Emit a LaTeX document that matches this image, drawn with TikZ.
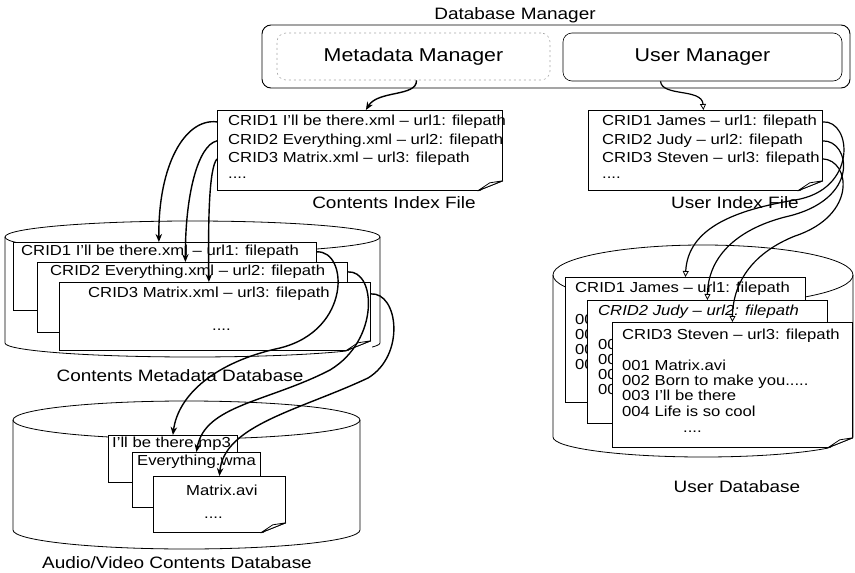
\documentclass[tikz,border=0pt]{standalone}
\usepackage{fontspec}
\setmainfont{Liberation Sans}[FakeStretch=1.15]
\usetikzlibrary{arrows.meta}

\newcommand\bodyfont{\fontsize{14.5}{17}\selectfont}
\newcommand\labelfont{\fontsize{16.5}{19}\selectfont}
\newcommand\mgrfont{\fontsize{18.6}{22}\selectfont}

\tikzset{
  page/.style={draw, fill=white, line width=0.8pt, rectangle, inner sep=0pt, anchor=north west},
  txt/.style={font=\bodyfont, inner sep=0pt, anchor=mid west},
  dots/.style={font=\bodyfont, inner sep=0pt, anchor=base west},
  lbl/.style={font=\labelfont, inner sep=0pt},
  cyl/.style={line width=0.8pt},
  arr/.style={line width=1.4pt, -{Stealth[length=8pt,width=6.5pt]}},
  oarr/.style={line width=1.2pt, -{Triangle[open,length=6pt,width=6pt,line width=0.8pt]}},
}

% dog-eared bottom right corner of a page node
\newcommand\dogear[1]{%
  \fill[white] ([xshift=1pt,yshift=10pt]#1.south east) -- ([xshift=1pt,yshift=-1pt]#1.south east)
     -- ([xshift=-25pt,yshift=-1pt]#1.south east) -- cycle;
  \draw[line width=0.8pt] ([yshift=10pt]#1.south east) -- ([xshift=-25pt]#1.south east);
  \draw[line width=0.8pt, fill=white, line join=round] ([xshift=-25pt]#1.south east)
     -- ([xshift=-13pt,yshift=8pt]#1.south east) -- ([yshift=10pt]#1.south east) -- cycle;
}

\begin{document}
\begin{tikzpicture}[x=1pt,y=-1pt]
\useasboundingbox (0,0) rectangle (855,573);

% ---------- Database manager ----------
\node[font=\labelfont, inner sep=0pt] (dbmt) at (515,15) {Database Manager};
\node[draw, rounded corners=9pt, line width=0.9pt, minimum width=588pt, minimum height=63pt] (dbm) at (556,56.5) {};
\node[draw=gray!70, dash pattern=on 2pt off 3pt, rounded corners=9pt, line width=0.6pt,
      minimum width=273pt, minimum height=47pt, font=\mgrfont] (mm) at (413.5,56.5) {Metadata Manager};
\node[draw, rounded corners=9pt, line width=0.6pt,
      minimum width=279pt, minimum height=48pt, font=\mgrfont] (um) at (702.5,57) {User Manager};

% ---------- index files ----------
\node[page, minimum width=285pt, minimum height=80pt] (cif) at (217,110) {};
\dogear{cif}
\node[txt] (ci1) at (228,123) {CRID1 I'll be there.xml – url1: filepath};
\node[txt] (ci2) at (228,142) {CRID2 Everything.xml – url2: filepath};
\node[txt] (ci3) at (228,160) {CRID3 Matrix.xml – url3: filepath};
\node[dots] (ci4) at (228,178) {....};
\node[lbl] (cifl) at (394,203) {Contents Index File};

\node[page, minimum width=234pt, minimum height=80pt] (uif) at (588,110) {};
\dogear{uif}
\node[txt] (ui1) at (602,123) {CRID1 James – url1: filepath};
\node[txt] (ui2) at (602,142) {CRID2 Judy – url2: filepath};
\node[txt] (ui3) at (602,160) {CRID3 Steven – url3: filepath};
\node[dots] (ui4) at (602,178) {....};
\node[lbl] (uifl) at (735,203) {User Index File};

% ---------- contents metadata database ----------
\draw[cyl] (192.5,237) ellipse [x radius=187.5pt, y radius=16pt];
\draw[cyl] (5,237) -- (5,343) arc[start angle=180, end angle=360, x radius=187.5pt, y radius=14pt] -- (380,237);
\node[page, minimum width=303pt, minimum height=68pt] (md1) at (13,242) {};
\node[txt] (mt1) at (21,253) {CRID1 I'll be there.xml – url1: filepath};
\node[page, minimum width=310pt, minimum height=70pt] (md2) at (37,262) {};
\node[txt] (mt2) at (50,273) {CRID2 Everything.xml – url2: filepath};
\node[page, minimum width=311pt, minimum height=68pt] (md3) at (59,282) {};
\dogear{md3}
\node[txt] (mt3) at (88,295) {CRID3 Matrix.xml – url3: filepath};
\node[dots] (mt4) at (212,330) {....};
\node[lbl] (cmdl) at (180,376) {Contents Metadata Database};

% ---------- audio/video contents database ----------
\draw[cyl] (186.5,420) ellipse [x radius=173.5pt, y radius=19pt];
\draw[cyl] (13,420) -- (13,530) arc[start angle=180, end angle=360, x radius=173.5pt, y radius=19pt] -- (360,420);
\node[page, minimum width=129pt, minimum height=47pt] (av1) at (108,435) {};
\node[txt] (at1) at (112,445) {I'll be there.mp3};
\node[page, minimum width=128pt, minimum height=55pt] (av2) at (132,452) {};
\node[txt] (at2) at (137,463) {Everything.wma};
\node[page, minimum width=132pt, minimum height=56pt] (av3) at (153,476) {};
\dogear{av3}
\node[txt] (at3) at (186,493) {Matrix.avi};
\node[dots] (at4) at (204,518) {....};
\node[lbl] (avdl) at (177,563) {Audio/Video Contents Database};

% ---------- user database ----------
\draw[cyl] (703,275) ellipse [x radius=150pt, y radius=30pt];
\draw[cyl] (553,275) -- (553,437) arc[start angle=180, end angle=360, x radius=150pt, y radius=20pt] -- (853,275);
\node[page, minimum width=240pt, minimum height=125pt] (ud1) at (565,277) {};
\node[txt] (ut1) at (575,290) {CRID1 James – url1: filepath};
\node[txt] (ua1) at (575,322) {00};
\node[txt] (ua2) at (575,337) {00};
\node[txt] (ua3) at (575,352) {00};
\node[txt] (ua4) at (575,367) {00};
\node[page, minimum width=240pt, minimum height=123pt] (ud2) at (587,300) {};
\node[txt, font=\bodyfont\itshape] (ut2) at (598,313) {CRID2 Judy – url2: filepath};
\node[txt] (ub1) at (598,347) {00};
\node[txt] (ub2) at (598,362) {00};
\node[txt] (ub3) at (598,377) {00};
\node[txt] (ub4) at (598,392) {00};
\node[page, minimum width=240pt, minimum height=125pt] (ud3) at (612,322) {};
\dogear{ud3}
\node[txt] (ut3) at (622,337) {CRID3 Steven – url3: filepath};
\node[txt] (uc1) at (622,368) {001 Matrix.avi};
\node[txt] (uc2) at (622,383) {002 Born to make you.....};
\node[txt] (uc3) at (622,398) {003 I'll be there};
\node[txt] (uc4) at (622,414) {004 Life is so cool};
\node[dots] (uc5) at (683,432) {....};
\node[lbl] (udbl) at (737,487) {User Database};

% ---------- connectors ----------
\draw[arr] ([xshift=3pt]mm.south) .. controls (417,97) and (378,90) .. ([xshift=6pt]cif.north);
\draw[oarr] ([xshift=-42pt]um.south) .. controls (662,97) and (702,88) .. ([xshift=-2pt]uif.north);

\draw[arr] (cif.west |- ci1) .. controls (185,118) and (158,165) .. ([xshift=-6pt]md1.north);
\draw[arr] (cif.west |- ci2) .. controls (198,145) and (185,195) .. ([xshift=-7pt]md2.north);
\draw[arr] (cif.west |- ci3) .. controls (209,168) and (208,220) .. ([xshift=-6pt]md3.north);

\draw[arr] (md1.east |- mt1) .. controls (348,250) and (352,330) .. (280,348)
           .. controls (215,362) and (178,395) .. (av1.north);
\draw[arr] (md2.east |- mt2) .. controls (376,270) and (380,340) .. (330,370)
           .. controls (268,402) and (205,405) .. (av2.north);
\draw[arr] (md3.east |- mt3) .. controls (398,292) and (406,355) .. (368,378)
           .. controls (300,410) and (224,425) .. (av3.north);

\draw[oarr] (uif.east |- ui1) .. controls (852,120) and (858,190) .. (795,200)
            .. controls (735,210) and (688,228) .. (ud1.north);
\draw[oarr] (uif.east |- ui2) .. controls (850,140) and (862,200) .. (785,217)
            .. controls (735,230) and (708,258) .. (ud2.north);
\draw[oarr] (uif.east |- ui3) .. controls (850,160) and (858,215) .. (795,236)
            .. controls (755,252) and (733,280) .. (ud3.north);
\end{tikzpicture}
\end{document}
